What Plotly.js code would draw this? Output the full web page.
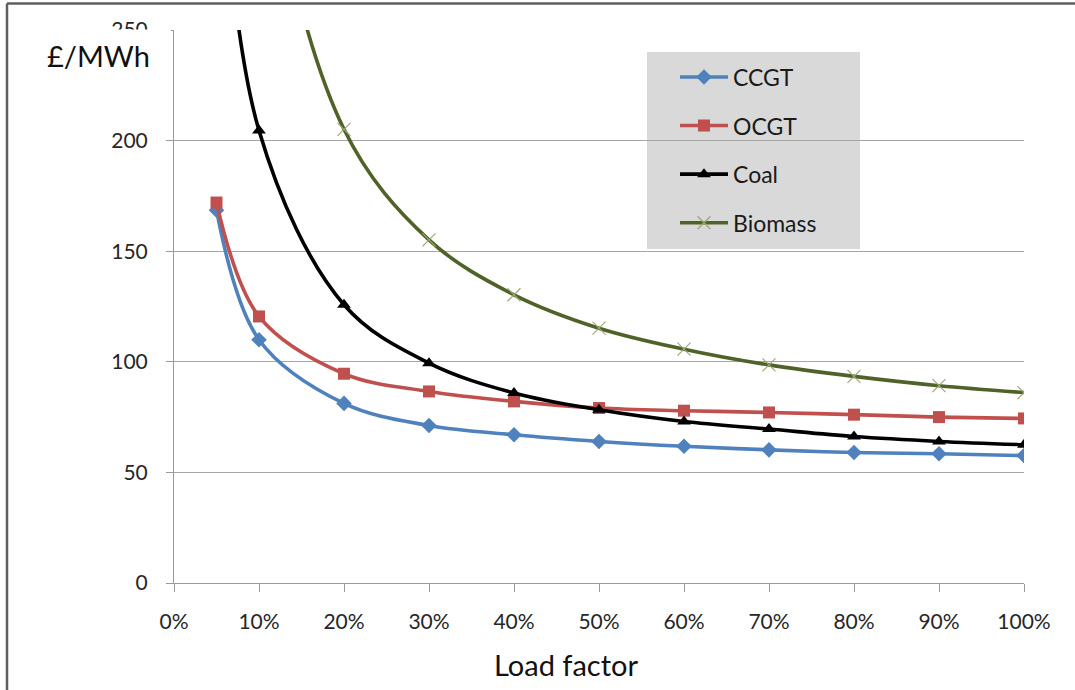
<!DOCTYPE html>
<html>
<head>
<meta charset="utf-8">
<script src="https://cdn.plot.ly/plotly-3.0.1.min.js"></script>
<style>html,body{margin:0;padding:0;background:#fff;}#chart{width:1075px;height:690px;}</style>
</head>
<body>
<div id="chart"></div>
<script>
// Data (load factor as fraction, £/MWh)
const loadFactor = [0.05, 0.1, 0.2, 0.3, 0.4, 0.5, 0.6, 0.7, 0.8, 0.9, 1.0];
const ccgt    = [168.5, 110.0, 81.2, 71.2, 67.0, 64.0, 61.8, 60.2, 59.0, 58.4, 57.6];
const ocgt    = [172.0, 120.5, 94.6, 86.6, 82.1, 79.1, 77.9, 77.1, 76.1, 75.0, 74.4];
const coal    = [365.0, 204.6, 125.8, 99.4, 85.9, 78.3, 73.0, 69.6, 66.2, 64.0, 62.5];
const biomass = [650.0, 353.0, 205.1, 155.1, 130.3, 115.2, 105.7, 98.6, 93.4, 89.2, 86.1];
const seriesNames = ["CCGT", "OCGT", "Coal", "Biomass"];
const xTickVals = [0, 0.1, 0.2, 0.3, 0.4, 0.5, 0.6, 0.7, 0.8, 0.9, 1.0];
const xTickText = ["0%", "10%", "20%", "30%", "40%", "50%", "60%", "70%", "80%", "90%", "100%"];
const yTickVals = [0, 50, 100, 150, 200, 250];

const W = 1075, H = 690;
const M = {l: 174, r: 51, t: 30, b: 107};
const PW = W - M.l - M.r, PH = H - M.t - M.b;
const px = x => (x - M.l) / PW;          // pixel -> paper x
const py = y => (H - M.b - y) / PH;      // pixel -> paper y

const FONT = "Lato, 'Open Sans', sans-serif";

function tr(name, y, color, sym, msize, mcolor, mline, group) {
  return {
    type: "scatter", mode: "lines+markers", name: name,
    x: loadFactor, y: y, legendgroup: group,
    line: {color: color, width: 3.6, shape: "spline", smoothing: 1},
    marker: {symbol: sym, size: msize, color: mcolor, line: mline},
    cliponaxis: true
  };
}

const data = [
  tr(seriesNames[0], ccgt, "#4f81bd", "diamond", 12, "#4f81bd", {width: 0}, "g1"),
  tr(seriesNames[1], ocgt, "#c0504d", "square", 12, "#c0504d", {width: 0}, "g2"),
  tr(seriesNames[2], coal, "#000000", "triangle-up", 12, "#000000", {width: 0}, "g3"),
  tr(seriesNames[3], biomass, "#4f6228", "x-thin-open", 13, "#9aa878", {width: 1.2, color: "#9aa878"}, "g4")
];

const layout = {
  width: W, height: H,
  margin: M,
  paper_bgcolor: "#ffffff", plot_bgcolor: "#ffffff",
  font: {family: FONT, size: 21, color: "#262626"},
  showlegend: true,
  legend: {
    x: px(675), y: py(55.5), xanchor: "left", yanchor: "top",
    bgcolor: "rgba(0,0,0,0)", borderwidth: 0,
    font: {family: FONT, size: 23, color: "#1a1a1a"},
    traceorder: "grouped", tracegroupgap: 15.7, itemwidth: 48
  },
  xaxis: {
    range: [0, 1], tickvals: xTickVals, ticktext: xTickText,
    showgrid: false, zeroline: false,
    showline: true, linecolor: "#9a9a9a", linewidth: 1,
    ticks: "outside", ticklen: 8, tickcolor: "#9a9a9a", tickwidth: 1,
    tickfont: {family: FONT, size: 21, color: "#262626"},
    ticklabelstandoff: 12, fixedrange: true
  },
  yaxis: {
    range: [0, 250], tickvals: yTickVals,
    showgrid: true, gridcolor: "#a6a6a6", gridwidth: 1,
    zeroline: false,
    showline: true, linecolor: "#9a9a9a", linewidth: 1,
    ticks: "outside", ticklen: 7, tickcolor: "#9a9a9a", tickwidth: 1,
    tickfont: {family: FONT, size: 21, color: "#262626"},
    ticklabelstandoff: 14, fixedrange: true
  },
  shapes: [
    // legend box
    {type: "rect", xref: "paper", yref: "paper", layer: "between",
     x0: px(647), x1: px(860), y0: py(249), y1: py(52),
     fillcolor: "#d9d9d9", line: {width: 0}},
    // white text box behind the unit label (hides lower part of top tick label)
    {type: "rect", xref: "paper", yref: "paper", layer: "above",
     x0: px(12), x1: px(171), y0: py(86), y1: py(29.5),
     fillcolor: "#ffffff", line: {width: 0}},
    // chart frame (left and top edges)
    {type: "line", xref: "paper", yref: "paper", layer: "above",
     x0: px(7), x1: px(7), y0: py(H + 5), y1: py(3.5),
     line: {color: "#5f5f5f", width: 2.5}},
    {type: "line", xref: "paper", yref: "paper", layer: "above",
     x0: px(7), x1: px(W + 5), y0: py(3.5), y1: py(3.5),
     line: {color: "#5f5f5f", width: 2.5}}
  ],
  annotations: [
    {text: "£/MWh", xref: "paper", yref: "paper", x: px(152), y: py(56),
     xanchor: "right", yanchor: "middle", showarrow: false,
     font: {family: FONT, size: 29, color: "#111111"}},
    {text: "Load factor", xref: "paper", yref: "paper", x: px(566), y: py(664),
     xanchor: "center", yanchor: "middle", showarrow: false,
     font: {family: FONT, size: 29, color: "#111111"}}
  ]
};

Plotly.newPlot("chart", data, layout, {displayModeBar: false, staticPlot: true});
</script>
</body>
</html>
